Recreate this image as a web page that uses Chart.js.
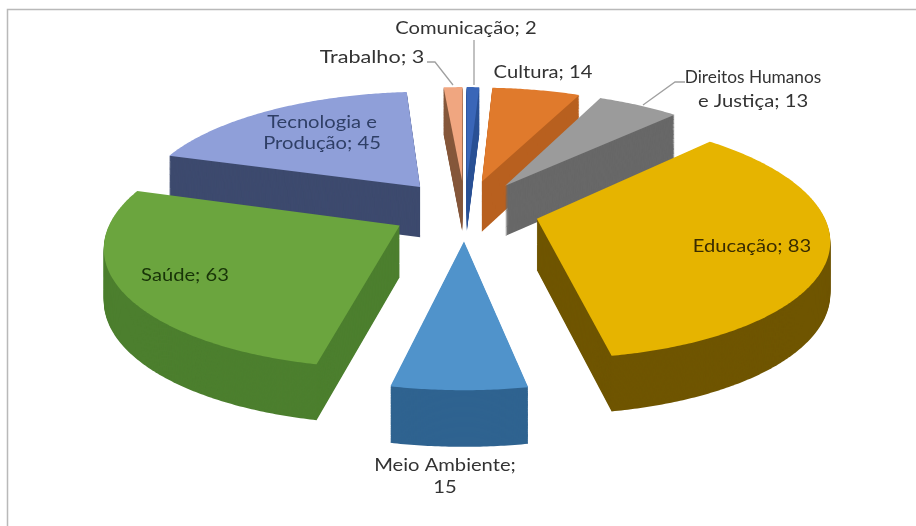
<!DOCTYPE html>
<html><head><meta charset="utf-8">
<style>html,body{margin:0;padding:0;background:#fff}canvas{display:block;filter:blur(0.45px)}</style>
<script src="https://cdn.jsdelivr.net/npm/chart.js@4"></script>
</head><body><canvas id="c" width="916" height="526"></canvas>
<script>
const categories = ['Comunicação','Cultura','Direitos Humanos e Justiça','Educação','Meio Ambiente','Saúde','Tecnologia e Produção','Trabalho'];
const values = [2,14,13,83,15,63,45,3];
const topColors = ['#3a66b8','#e07a2c','#9b9b9b','#e6b400','#5093cb','#6ba53e','#8f9fd9','#f0a680'];
const wallColors = ['#2c5296','#b8601f','#686868','#6f5500','#2f6390','#4c7f2e','#3d4a6e','#86583c'];
// label text lines, split as the reference wraps them
const labelLines = [['Comunicação; 2'],['Cultura; 14'],['Direitos Humanos','e Justiça; 13'],['Educação; 83'],['Meio Ambiente;','15'],['Saúde; 63'],['Tecnologia e','Produção; 45'],['Trabalho; 3']];
const labelPos = [[466,28],[543,72],[753,77],[752,246],[445,465],[185,275],[322,122],[372,57]];
const labelGap = [0,0,24,0,22,0,21,0];
const labelStretch = [1.12,1.12,0.96,1.12,1.12,1.12,1.12,1.2];
const labelInk = ['#333333','#333333','#333333','#3a2c00','#333333','#183408','#2f3f66','#333333'];
const leaders = [[[474,40],[474,85]],[[427,62],[435,62],[453,85]],[[685,82],[675,82],[643,105]]];

// view of the tilted, exploded pie
const view = {cx:465, cy:210, rx:285, ky:116, persp:0.15, explode:0.26, depth:51};

function project(X,Y,t){
  const w = 1 + view.persp*Y;
  return [view.cx + view.rx*X/w, view.cy - view.ky*Y/w + view.depth*t/Math.sqrt(w)];
}
function projector(ctx, el, t){
  const mid = (el.startAngle+el.endAngle)/2, R = el.outerRadius;
  const ex = Math.cos(mid)*view.explode, ey = -Math.sin(mid)*view.explode;
  const map = (px,py)=>project((px-el.x)/R+ex, -(py-el.y)/R+ey, t);
  return new Proxy(ctx,{
    get(o,k){
      if(k==='moveTo') return (x,y)=>{const p=map(x,y);o.moveTo(p[0],p[1]);};
      if(k==='lineTo') return (x,y)=>{const p=map(x,y);o.lineTo(p[0],p[1]);};
      if(k==='arc') return (x,y,r,a,b,ccw)=>{
        if(!(r>1e-6)||!isFinite(a)||!isFinite(b)){const p=map(x,y);o.lineTo(p[0],p[1]);return;}
        let d=b-a; if(ccw&&d>0)d-=Math.PI*2; if(!ccw&&d<0)d+=Math.PI*2;
        const n=Math.max(2,Math.ceil(Math.abs(d)/0.01));
        for(let i=0;i<=n;i++){const q=a+d*i/n;const p=map(x+r*Math.cos(q),y+r*Math.sin(q));o.lineTo(p[0],p[1]);}
      };
      const v=o[k]; return typeof v==='function'?v.bind(o):v;
    },
    set(o,k,v){o[k]=v;return true;}
  });
}
const pie3d = {
  id:'pie3d',
  beforeDatasetDraw(chart,args){
    const ctx=chart.ctx, els=args.meta.data;
    const order=els.map((e,i)=>i).sort((a,b)=>{
      const m=e=>-Math.sin((e.startAngle+e.endAngle)/2);
      return m(els[b])-m(els[a]);
    });
    for(const i of order){
      const el=els[i], base=el.options;
      el.options=Object.assign({},base,{backgroundColor:wallColors[i]});
      for(let s=view.depth;s>=1;s--) el.draw(projector(ctx,el,s/view.depth));
      el.options=base;
      el.draw(projector(ctx,el,0));
    }
    return false;
  },
  afterDraw(chart){
    const ctx=chart.ctx;
    ctx.save();
    ctx.strokeStyle='#a0a0a0';ctx.lineWidth=1.3;
    for(const l of leaders){ctx.beginPath();l.forEach((p,j)=>j?ctx.lineTo(p[0],p[1]):ctx.moveTo(p[0],p[1]));ctx.stroke();}
    ctx.font='18px Lato';ctx.textAlign='center';ctx.textBaseline='middle';
    labelLines.forEach((lines,i)=>{
      ctx.fillStyle=labelInk[i];
      lines.forEach((s,j)=>{
        ctx.save();
        ctx.translate(labelPos[i][0],labelPos[i][1]+j*labelGap[i]);
        ctx.scale(labelStretch[i]*(j&&i===2?1.17:1),1);
        ctx.fillText(s,0,0);
        ctx.restore();
      });
    });
    ctx.strokeStyle='#b9b9b9';ctx.lineWidth=1.5;
    ctx.beginPath();ctx.moveTo(7.5,526);ctx.lineTo(7.5,9.5);ctx.lineTo(916,9.5);ctx.stroke();
    ctx.restore();
  }
};
new Chart(document.getElementById('c'),{
  type:'pie',
  data:{labels:categories,datasets:[{data:values,backgroundColor:topColors,borderWidth:0}]},
  options:{responsive:false,animation:false,rotation:0,
    plugins:{legend:{display:false},tooltip:{enabled:false}}},
  plugins:[pie3d]
});
</script></body></html>
